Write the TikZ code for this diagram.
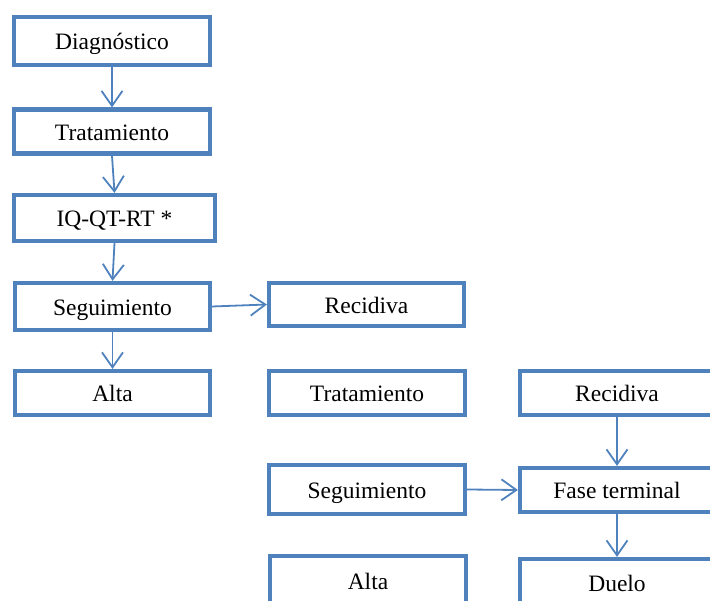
\documentclass[tikz,border=0pt]{standalone}
\usepackage{fontspec}
\setmainfont{Liberation Serif}
\usetikzlibrary{arrows.meta}
\definecolor{boxblue}{HTML}{4F81BD}
\begin{document}
\begin{tikzpicture}[x=1pt,y=-1pt,
  stage/.style={draw=boxblue, line width=4.2pt, rectangle, inner sep=0pt,
    minimum width=196pt, minimum height=46pt, fill=white,
    text height=18pt, text depth=0pt,
    font=\fontsize{23.5}{28}\selectfont},
  flow/.style={draw=boxblue, line width=1.8pt,
    -{Straight Barb[length=15pt,width=21pt,line width=1.8pt]}}]
\useasboundingbox (0,0) rectangle (710,601);
\begin{scope}
\clip (0,0) rectangle (710,601);
% left column
\node[stage, minimum height=48pt] (diag) at (112,41) {Diagnóstico};
\node[stage, minimum height=44pt] (trat1) at (112,131.5) {Tratamiento};
\node[stage, minimum width=201pt] (iq) at (114.5,218) {IQ-QT-RT *};
\node[stage, minimum width=195pt, minimum height=47pt] (seg1) at (112.5,306.5) {Seguimiento};
\node[stage, minimum width=195pt, minimum height=44pt] (alta1) at (112.5,393) {Alta};
% middle column
\node[stage, minimum width=195pt, minimum height=43pt] (rec1) at (366.5,304.5) {Recidiva};
\node[stage, minimum height=44pt] (trat2) at (367,393) {Tratamiento};
\node[stage, minimum height=49pt] (seg2) at (367,489.5) {Seguimiento};
\node[stage, minimum height=48pt] (alta2) at (368,580) {Alta};
% right column
\node[stage, minimum width=194pt, minimum height=44pt] (rec2) at (617,393) {Recidiva};
\node[stage, minimum width=194pt, minimum height=44pt] (fase) at (617,490) {Fase terminal};
\node[stage, minimum width=194pt, minimum height=46pt] (duelo) at (617,582) {Duelo};
% connectors
\draw[flow] (diag) -- (trat1);
\draw[flow] (trat1.south) -- (iq.north);
\draw[flow] (iq.south) -- (seg1.north);
\draw[flow] (seg1) -- (alta1);
\draw[flow] (seg1.east) -- (rec1.west);
\draw[flow] (rec2) -- (fase);
\draw[flow] (seg2.east) -- (fase.west);
\draw[flow] (fase) -- (duelo);
\end{scope}
\end{tikzpicture}
\end{document}
